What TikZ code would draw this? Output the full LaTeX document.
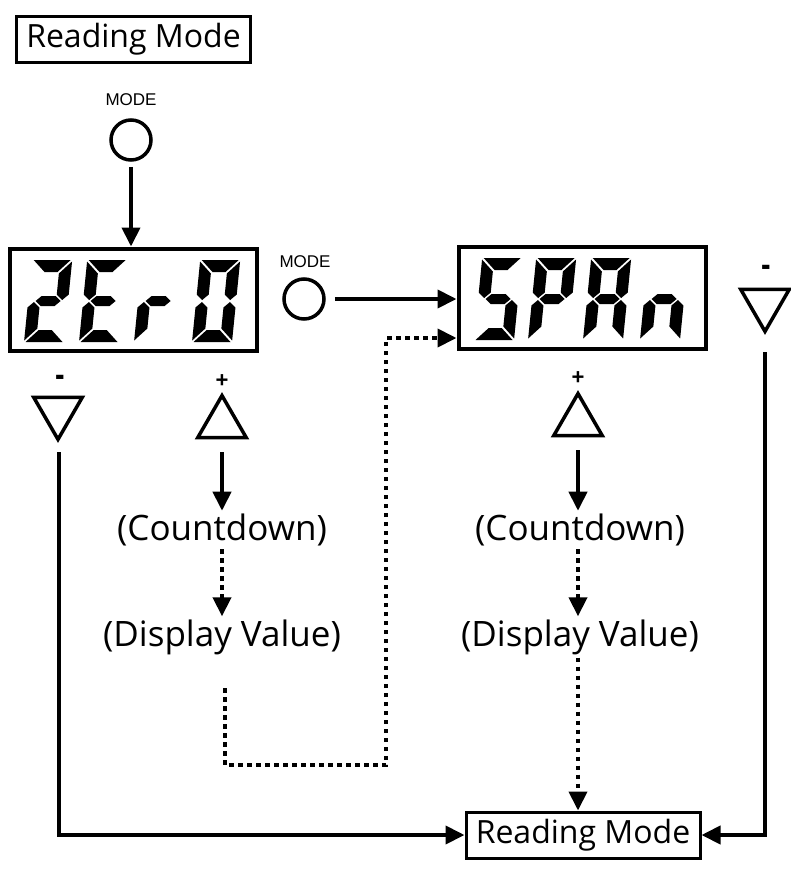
\documentclass[tikz,border=0pt]{standalone}
\usepackage{fontspec}
\setmainfont{Open Sans}
\newfontfamily\modefont{Liberation Sans}
\usetikzlibrary{arrows.meta,shapes.geometric}
\newcommand\SgA{\fill (1.5,82) -- (38.5,82) -- (26.5,70) -- (13.5,70) -- cycle;}
\newcommand\SgD{\fill (1.5,0) -- (38.5,0) -- (26.5,12) -- (13.5,12) -- cycle;}
\newcommand\SgG{\fill (7.5,41) -- (13,46) -- (27,46) -- (32.5,41) -- (27,36) -- (13,36) -- cycle;}
\newcommand\SgF{\fill (0,80.5) -- (12,68.5) -- (12,47.5) -- (6,42) -- (0,47.5) -- cycle;}
\newcommand\SgB{\fill (40,80.5) -- (28,68.5) -- (28,47.5) -- (34,42) -- (40,47.5) -- cycle;}
\newcommand\SgE{\fill (0,1.5) -- (12,13.5) -- (12,34.5) -- (6,40) -- (0,34.5) -- cycle;}
\newcommand\SgC{\fill (40,1.5) -- (28,13.5) -- (28,34.5) -- (34,40) -- (40,34.5) -- cycle;}
\newcommand\lcd[3]{\begin{scope}[shift={(#1,#2)},x=1pt,y=1pt,xslant=0.1]#3\end{scope}}
\begin{document}
\begin{tikzpicture}[x=1pt,y=-1pt,
  box/.style={draw, line width=3pt, minimum width=234pt, minimum height=46pt, inner sep=0pt, font=\fontsize{32}{36}\selectfont},
  lbl/.style={inner sep=3pt, font=\fontsize{35}{40}\selectfont},
  modelbl/.style={inner sep=0pt, font=\modefont\fontsize{17}{20}\selectfont},
  sign/.style={inner sep=0pt, font=\modefont\bfseries\fontsize{22}{24}\selectfont},
  btn/.style={circle, draw, line width=3.5pt, minimum size=40pt, inner sep=0pt},
  disp/.style={draw, line width=4pt, minimum width=247pt, minimum height=102pt, inner sep=0pt},
  triup/.style={regular polygon, regular polygon sides=3, draw, line width=3.5pt, minimum size=56pt, inner sep=0pt},
  tridown/.style={triup, shape border rotate=180},
  conn/.style={line width=4pt, -{Triangle[length=19pt,width=18pt]}},
  dots/.style={conn, dash pattern=on 4.5pt off 4.5pt}]
\useasboundingbox (0,0) rectangle (791,881);
% top
\node[box] (rm1) at (133.5,39) {Reading Mode};
\node[modelbl] (mode1) at (131,100) {MODE};
\node[btn] (btn1) at (131,140) {};
% displays
\node[disp] (disp1) at (133,299.5) {};
\lcd{24}{342}{\SgA\SgB\SgG\SgE\SgD}
\lcd{79}{342}{\SgA\SgF\SgG\SgE\SgD}
\lcd{134}{342}{\SgE\SgG}
\lcd{192}{342}{\SgA\SgB\SgC\SgD\SgE\SgF}
\node[modelbl] (mode2) at (305,262) {MODE};
\node[btn] (btn2) at (304,299) {};
\node[disp] (disp2) at (582,297.5) {};
\lcd{474}{340}{\SgA\SgF\SgG\SgC\SgD}
\lcd{528}{340}{\SgA\SgB\SgF\SgG\SgE}
\lcd{583}{340}{\SgA\SgB\SgC\SgE\SgF\SgG}
\lcd{640}{340}{\SgE\SgG\SgC}
% buttons
\node[sign] (minus1) at (60,381) {\scalebox{1.3}[1.6]{-}};
\node[tridown] (tm1) at (58,411.4) {};
\node[sign] (plus1) at (222,381) {+};
\node[triup] (tp1) at (222,423.6) {};
\node[sign] (plus2) at (578,378) {+};
\node[triup] (tp2) at (578,421.6) {};
\node[sign] (minus2) at (766,271) {\scalebox{1.3}[1.6]{-}};
\node[tridown] (tm2) at (765,303.4) {};
% texts
\node[lbl] (cd1) at (222,530) {(Countdown)};
\node[lbl] (dv1) at (222,637) {(Display Value)};
\node[lbl] (cd2) at (580,530) {(Countdown)};
\node[lbl] (dv2) at (580,637) {(Display Value)};
\node[box] (rm2) at (583,835) {Reading Mode};
% connectors
\draw[conn, shorten <=5pt] (btn1.south) -- (btn1.south |- disp1.north);
\draw[conn, shorten <=9pt] (btn2.east) -- (btn2.east -| disp2.west);
\coordinate (l1s) at (59,452);
\coordinate (l2s) at (222,452);
\coordinate (r2s) at (578,450);
\coordinate (r1s) at (765,352);
\draw[conn] (l1s) |- (rm2.west);
\draw[conn] (r1s) |- (rm2.east);
\draw[conn] (l2s) -- (l2s |- cd1.north);
\draw[conn] (r2s) -- (r2s |- cd2.north);
\draw[dots] (l2s |- cd1.south) -- (l2s |- dv1.north);
\draw[dots] (r2s |- cd2.south) -- (r2s |- dv2.north);
\draw[dots] (r2s |- dv2.south) -- (r2s |- rm2.north);
\coordinate (d0) at (225,688);
\coordinate (d1) at (225,765);
\coordinate (d2) at (386,765);
\coordinate (d3) at (386,338);
\draw[dots] (d0) -- (d1) -- (d2) -- (d3) -- (d3 -| disp2.west);
\end{tikzpicture}
\end{document}
